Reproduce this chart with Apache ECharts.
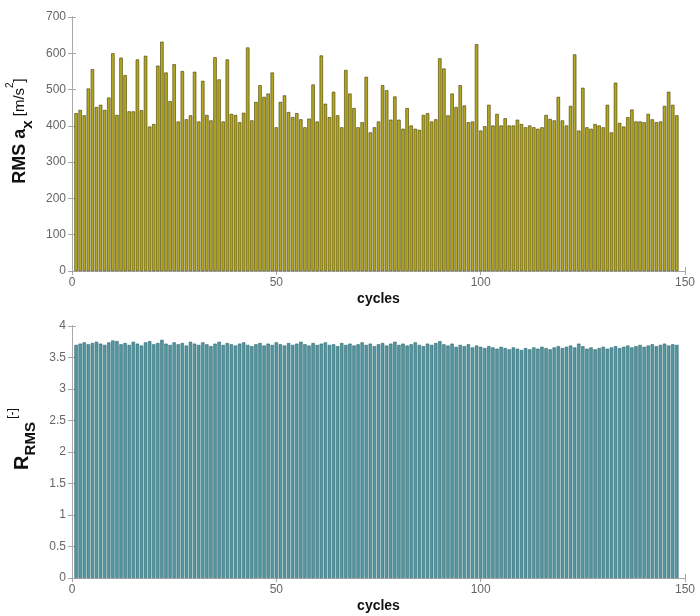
<!DOCTYPE html>
<html>
<head>
<meta charset="utf-8">
<script src="https://cdn.jsdelivr.net/npm/echarts@6/dist/echarts.min.js"></script>
<style>
  html, body { margin: 0; padding: 0; background: #fff; }
  #chart { width: 700px; height: 616px; }
</style>
</head>
<body>
<div id="chart"></div>
<script>
// RMS of the x acceleration per cycle [m/s^2]
const rmsAx = [
  435, 444, 429, 503, 556, 452, 458, 444, 478, 600,
  430, 588, 540, 440, 440, 583, 443, 593, 398, 405,
  566, 632, 547, 468, 570, 412, 551, 418, 429, 549,
  412, 524, 430, 415, 589, 528, 412, 583, 433, 430,
  410, 436, 616, 415, 466, 512, 480, 489, 547, 396,
  466, 484, 438, 424, 435, 418, 396, 420, 514, 412,
  594, 461, 424, 494, 429, 396, 554, 489, 449, 396,
  410, 535, 382, 396, 412, 512, 498, 417, 481, 417,
  392, 449, 401, 392, 389, 430, 435, 412, 418, 586,
  558, 429, 489, 452, 512, 456, 410, 412, 625, 387,
  399, 458, 401, 433, 401, 421, 401, 401, 417, 405,
  396, 401, 396, 392, 396, 430, 419, 415, 480, 415,
  401, 455, 597, 387, 505, 396, 392, 405, 401, 396,
  458, 382, 519, 408, 398, 424, 445, 412, 412, 410,
  433, 418, 410, 412, 455, 494, 458, 429
];

// RMS ratio per cycle [-]
const rRms = [
  3.70, 3.72, 3.74, 3.71, 3.73, 3.75, 3.72, 3.70, 3.74, 3.77,
  3.76, 3.71, 3.73, 3.70, 3.75, 3.72, 3.69, 3.74, 3.76, 3.71,
  3.73, 3.78, 3.72, 3.70, 3.74, 3.71, 3.73, 3.69, 3.75, 3.72,
  3.70, 3.74, 3.71, 3.68, 3.72, 3.75, 3.70, 3.73, 3.71, 3.69,
  3.72, 3.74, 3.70, 3.68, 3.71, 3.73, 3.69, 3.72, 3.70, 3.74,
  3.71, 3.69, 3.73, 3.70, 3.72, 3.75, 3.71, 3.69, 3.73, 3.70,
  3.72, 3.74, 3.70, 3.71, 3.68, 3.73, 3.70, 3.72, 3.69, 3.71,
  3.74, 3.70, 3.72, 3.68, 3.71, 3.73, 3.69, 3.72, 3.75, 3.70,
  3.72, 3.69, 3.71, 3.74, 3.70, 3.68, 3.72, 3.70, 3.73, 3.76,
  3.71, 3.69, 3.72, 3.67, 3.70, 3.68, 3.71, 3.66, 3.69, 3.67,
  3.65, 3.68, 3.66, 3.64, 3.67, 3.65, 3.63, 3.66, 3.64, 3.62,
  3.65, 3.63, 3.66, 3.64, 3.67, 3.65, 3.63, 3.66, 3.68, 3.65,
  3.67, 3.69, 3.66, 3.72, 3.68, 3.64, 3.66, 3.63, 3.65, 3.67,
  3.64, 3.66, 3.68, 3.65, 3.67, 3.69, 3.66, 3.68, 3.70, 3.67,
  3.69, 3.71, 3.68, 3.70, 3.72, 3.69, 3.71, 3.70
];

const cycleTicks = [0, 50, 100, 150];
const axTicks = [0, 100, 200, 300, 400, 500, 600, 700];
const ratioTicks = [0, 0.5, 1, 1.5, 2, 2.5, 3, 3.5, 4];

const FONT = 'Liberation Sans, Arial, sans-serif';
const frameColor = '#a8a8a8';
const labelColor = '#666';

function xAxisPair(gridIndex) {
  return [
    {
      type: 'value', gridIndex, position: 'bottom',
      min: cycleTicks[0], max: cycleTicks[cycleTicks.length - 1],
      interval: cycleTicks[1] - cycleTicks[0],
      axisLine: { lineStyle: { color: frameColor, width: 1 } },
      axisTick: { inside: true, length: 4, lineStyle: { color: frameColor } },
      axisLabel: { color: labelColor, fontSize: 12, fontFamily: FONT, margin: 6 },
      splitLine: { show: false },
      name: 'cycles', nameLocation: 'middle', nameGap: 21,
      nameTextStyle: { color: '#111', fontSize: 14, fontWeight: 'bold', fontFamily: FONT }
    },
    {
      type: 'value', gridIndex, position: 'top',
      min: cycleTicks[0], max: cycleTicks[cycleTicks.length - 1],
      interval: cycleTicks[1] - cycleTicks[0],
      axisLine: { lineStyle: { color: frameColor, width: 1 } },
      axisTick: { inside: true, length: 4, lineStyle: { color: frameColor } },
      axisLabel: { show: false },
      splitLine: { show: false }
    }
  ];
}

function yAxisPair(gridIndex, ticks, name, rich, nameGap) {
  const base = {
    type: 'value', gridIndex,
    min: ticks[0], max: ticks[ticks.length - 1],
    interval: ticks[1] - ticks[0],
    axisLine: { show: true, lineStyle: { color: frameColor, width: 1 } },
    axisTick: { show: true, inside: true, length: 4, lineStyle: { color: frameColor } },
    splitLine: { show: false }
  };
  return [
    Object.assign({}, base, {
      position: 'left',
      axisLabel: { color: labelColor, fontSize: 12, fontFamily: FONT, margin: 6 },
      name, nameLocation: 'middle', nameGap, nameRotate: 90,
      // left padding pushes the rotated label towards the top of the panel
      nameTextStyle: { fontFamily: FONT, color: '#111', rich, padding: [0, 0, 0, 26] }
    }),
    Object.assign({}, base, { position: 'right', axisLabel: { show: false } })
  ];
}

const chart = echarts.init(document.getElementById('chart'), null, { renderer: 'canvas' });

const option = {
  backgroundColor: '#fff',
  animation: false,
  grid: [
    { left: 72, right: 15, top: 17, height: 254, outerBoundsMode: 'none', containLabel: false },
    { left: 72, right: 15, top: 326, height: 252, outerBoundsMode: 'none', containLabel: false }
  ],
  xAxis: [...xAxisPair(0), ...xAxisPair(1)],
  yAxis: [
    ...yAxisPair(0, axTicks, '{b|RMS a}{s|x}{n| [m/s}{p|2}{n|]}', {
      b: { fontSize: 18, fontWeight: 'bold', fontFamily: FONT, color: '#111', lineHeight: 30, verticalAlign: 'middle' },
      s: { fontSize: 15, fontWeight: 'bold', fontFamily: FONT, color: '#111', lineHeight: 30, verticalAlign: 'bottom' },
      n: { fontSize: 15, fontFamily: FONT, color: '#111', lineHeight: 30, verticalAlign: 'middle' },
      p: { fontSize: 10, fontFamily: FONT, color: '#111', lineHeight: 30, verticalAlign: 'top' }
    }, 30),
    ...yAxisPair(1, ratioTicks, '{b|R}{s|RMS}{n| [-]}', {
      b: { fontSize: 20, fontWeight: 'bold', fontFamily: FONT, color: '#111', lineHeight: 32, verticalAlign: 'middle' },
      s: { fontSize: 15, fontWeight: 'bold', fontFamily: FONT, color: '#111', lineHeight: 32, verticalAlign: 'bottom' },
      n: { fontSize: 12, fontFamily: FONT, color: '#111', lineHeight: 32, verticalAlign: 'top' }
    }, 27)
  ],
  series: [
    {
      type: 'bar', xAxisIndex: 0, yAxisIndex: 0,
      barWidth: 3.4,
      itemStyle: { color: '#b4a71d', borderColor: '#3f3a05', borderWidth: 0.6 },
      data: rmsAx.map((v, i) => [i + 1, v])
    },
    {
      type: 'bar', xAxisIndex: 2, yAxisIndex: 2,
      barWidth: 3.4,
      itemStyle: { color: '#5597a0', borderColor: '#2b6770', borderWidth: 0.6 },
      data: rRms.map((v, i) => [i + 1, v])
    }
  ]
};

chart.setOption(option);
</script>
</body>
</html>
